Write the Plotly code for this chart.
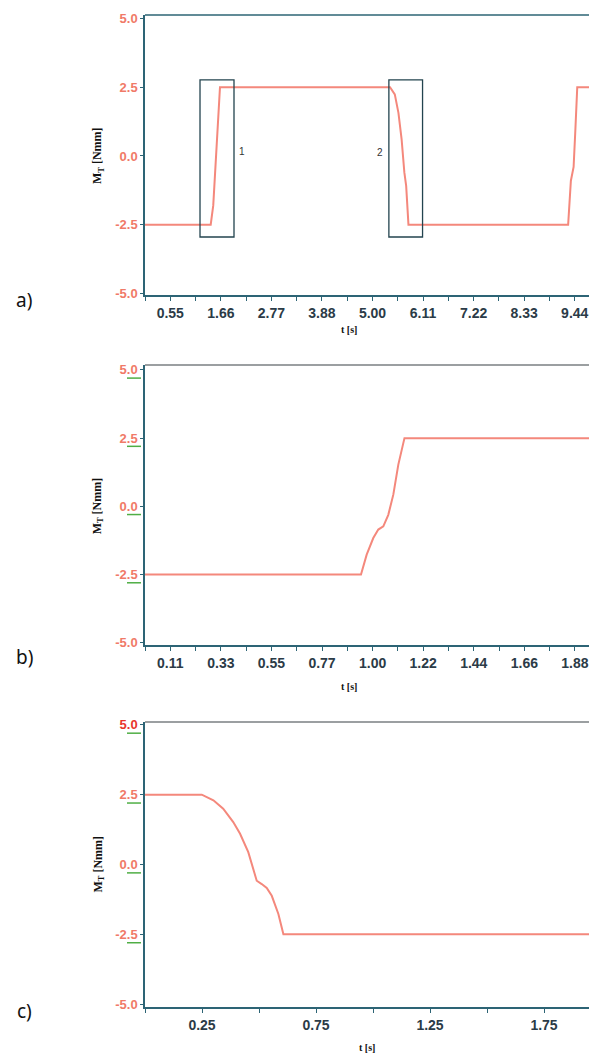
import plotly.graph_objects as go

# ---- data ----
a_t = [0, 1.444, 1.50, 1.56, 1.61, 1.648, 5.385, 5.49, 5.57, 5.64, 5.70, 5.74, 5.79, 9.30, 9.36, 9.42, 9.46, 9.50, 10]
a_m = [-2.5, -2.5, -1.8, 0.0, 1.7, 2.5, 2.5, 2.24, 1.57, 0.6, -0.6, -1.09, -2.5, -2.5, -0.9, -0.4, 1.0, 2.5, 2.5]

b_t = [0, 0.949, 0.974, 1.003, 1.025, 1.047, 1.069, 1.091, 1.113, 1.14, 2.0]
b_m = [-2.5, -2.5, -1.77, -1.16, -0.85, -0.73, -0.31, 0.43, 1.53, 2.5, 2.5]

c_t = [0, 0.249, 0.30, 0.343, 0.387, 0.417, 0.453, 0.49, 0.512, 0.534, 0.556, 0.585, 0.607, 2.0]
c_m = [2.5, 2.5, 2.30, 2.0, 1.52, 1.10, 0.44, -0.58, -0.70, -0.84, -1.12, -1.77, -2.5, -2.5]

y_ticks = [-5, -2.5, 0, 2.5, 5]
y_labels = ["-5.0", "-2.5", "0.0", "2.5", "5.0"]

a_minor = [k * 10 / 18 for k in range(18)]
a_xticks = [k * 10 / 18 for k in range(1, 18, 2)]
a_xlabels = ["0.55", "1.66", "2.77", "3.88", "5.00", "6.11", "7.22", "8.33", "9.44"]
b_minor = [k * 2 / 18 for k in range(18)]
b_xticks = [k * 2 / 18 for k in range(1, 18, 2)]
b_xlabels = ["0.11", "0.33", "0.55", "0.77", "1.00", "1.22", "1.44", "1.66", "1.88"]
c_minor = [0, 0.25, 0.5, 0.75, 1.0, 1.25, 1.5, 1.75]
c_xticks = [0.25, 0.75, 1.25, 1.75]
c_xlabels = ["0.25", "0.75", "1.25", "1.75"]

boxes = [(1.209, 1.956, -2.95, 2.77, "1", 2.13, 0.17), (5.36, 6.10, -2.95, 2.77, "2", 5.16, 0.13)]

# ---- layout geometry (page has an 8px body margin) ----
OFF = 8
W, H = 597 - OFF, 1055 - OFF


def PX(x):
    return (x - OFF) / W


def PY(y):
    return 1 - (y - OFF) / H


LEFT = PX(145)
TEAL = "#2d6475"
LINE = "#f4887c"
YLAB = "#f07a68"
XLAB = "#2b3b47"

panels = [
    # (top px, bottom px, xrange, yrange, minor, xticks, xlabels, label, label_y_px, xtitle_x_px, xtitle_y_px)
    (15, 295, [0, 452 / 45.5], [-5.06, 5.13], a_minor, a_xticks, a_xlabels, "a)", 300, 349, 329),
    (365, 645, [0, 452 / 227.6], [-5.08, 5.18], b_minor, b_xticks, b_xlabels, "b)", 657, 349, 686),
    (722, 1007, [0, 452 / 228.0], [-5.1, 5.1], c_minor, c_xticks, c_xlabels, "c)", 1011, 367, 1047),
]
series = [(a_t, a_m), (b_t, b_m), (c_t, c_m)]

fig = go.Figure()
layout = dict(
    width=W, height=H,
    margin=dict(l=0, r=0, t=0, b=0, autoexpand=False),
    paper_bgcolor="white", plot_bgcolor="white",
    showlegend=False,
    shapes=[], annotations=[],
)

for i, (p, (tx, my)) in enumerate(zip(panels, series)):
    top, bot, xr, yr, mn, xt, xl, lab, laby, xtx, xty = p
    n = "" if i == 0 else str(i + 1)
    xa, ya = "x" + n, "y" + n
    fig.add_trace(go.Scatter(x=tx, y=my, mode="lines", xaxis=xa, yaxis=ya,
                             line=dict(color=LINE, width=2), hoverinfo="skip"))
    d0, d1 = PY(bot), PY(top)
    ylabs = list(y_labels)
    if i == 2:
        ylabs[4] = "<span style='color:#e8352c'>5.0</span>"
    layout["xaxis" + n] = dict(
        domain=[LEFT, 1], range=xr, anchor=ya, automargin=False,
        showline=True, linecolor=TEAL, linewidth=1.5,
        ticks="outside", ticklen=4, tickcolor=TEAL, tickwidth=1,
        tickvals=xt, ticktext=xl,
        minor=dict(tickvals=mn, ticks="outside", ticklen=4, tickcolor=TEAL, tickwidth=1, showgrid=False),
        tickfont=dict(family="Liberation Sans", size=14, color=XLAB, weight="bold"),
        showgrid=False, zeroline=False, fixedrange=True,
    )
    layout["yaxis" + n] = dict(
        domain=[d0, d1], range=yr, anchor=xa, automargin=False,
        showline=True, linecolor=TEAL, linewidth=1.5,
        ticks="outside", ticklen=3, tickcolor=TEAL, tickwidth=1,
        tickvals=y_ticks, ticktext=ylabs,
        tickfont=dict(family="Liberation Sans", size=13, color=YLAB, weight="bold"),
        showgrid=False, zeroline=False, fixedrange=True,
    )
    # top border
    layout["shapes"].append(dict(type="line", xref="paper", yref="paper",
                                 x0=LEFT, x1=1, y0=d1, y1=d1,
                                 line=dict(color=TEAL if i == 0 else "#7a7f82", width=1.5)))
    # y title
    layout["annotations"].append(dict(
        xref="paper", yref=ya, x=PX(98), y=0, text="M<sub>T</sub> [Nmm]",
        textangle=-90, showarrow=False, xanchor="center", yanchor="middle",
        font=dict(family="Liberation Serif", size=12, color="#111", weight="bold")))
    # x title
    layout["annotations"].append(dict(
        xref="paper", yref="paper", x=PX(xtx), y=PY(xty), text="t [s]",
        showarrow=False, xanchor="center", yanchor="middle",
        font=dict(family="Liberation Serif", size=10, color="#111", weight="bold")))
    # panel label
    layout["annotations"].append(dict(
        xref="paper", yref="paper", x=PX(24), y=PY(laby), text=lab,
        showarrow=False, xanchor="center", yanchor="middle",
        font=dict(family="Noto Sans", size=19, color="#111")))
    # green spell-check underlines under y tick labels (panels b, c)
    if i > 0:
        for v in y_ticks:
            layout["shapes"].append(dict(
                type="line", xref="paper", yref=ya,
                x0=PX(127), x1=PX(141), y0=v - 0.3, y1=v - 0.3,
                line=dict(color="#4fae45", width=1.5)))

# boxes in panel a
for (x0, x1, y0, y1, txt, lx, ly) in boxes:
    layout["shapes"].append(dict(type="rect", xref="x", yref="y", x0=x0, x1=x1, y0=y0, y1=y1,
                                 line=dict(color="#23444f", width=1.3)))
    layout["annotations"].append(dict(xref="x", yref="y", x=lx, y=ly, text=txt, showarrow=False,
                                      font=dict(family="Liberation Sans", size=10, color="#333")))

fig.update_layout(**layout)
fig.write_html("out.html")
